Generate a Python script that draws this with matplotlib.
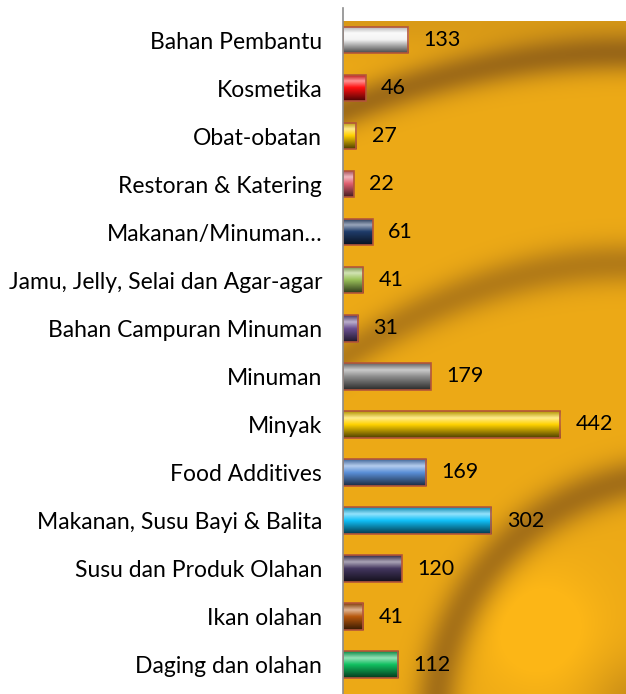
import numpy as np
import matplotlib
matplotlib.use('Agg')
import matplotlib.pyplot as plt
from matplotlib.colors import to_rgb

plt.rcParams['font.family'] = ['Lato', 'DejaVu Sans']

categories = ['Bahan Pembantu', 'Kosmetika', 'Obat-obatan', 'Restoran & Katering',
              'Makanan/Minuman\u2026', 'Jamu, Jelly, Selai dan Agar-agar',
              'Bahan Campuran Minuman', 'Minuman', 'Minyak', 'Food Additives',
              'Makanan, Susu Bayi & Balita', 'Susu dan Produk Olahan',
              'Ikan olahan', 'Daging dan olahan']
values = [133, 46, 27, 22, 61, 41, 31, 179, 442, 169, 302, 120, 41, 112]
bar_colors = ['#f4f4f4', '#ff1010', '#ffd000', '#e06070', '#1f3c6a', '#9bc25a',
              '#6a4f90', '#8c8c8c', '#ffd200', '#5a8fd8', '#10c0f8', '#43365e',
              '#b8580c', '#10c060']

W, H = 626, 694
fig = plt.figure(figsize=(W / 100, H / 100), dpi=100, facecolor='white')
ax = fig.add_axes([343 / W, 0, 1 - 343 / W, 1 - 8 / H])
ax.patch.set_alpha(0)

n = len(categories)
ypos = np.arange(n)
bar_h = 0.55
xmax = 576
ytop, ybot = -0.666, 13.61

# background: gold with soft dark arcs, placed pixel for pixel behind the axes
px = np.arange(343, 626)[None, :].astype(float)
py = np.arange(21, 694)[:, None].astype(float)
t = (px - 343) / 283
y1 = 53 + 57 * (1 - t) ** 2
band1 = np.exp(-((py - y1) / 20) ** 2)
y2 = 263 + 94 * (1 - t) ** 2
band2 = 0.75 * np.exp(-((py - y2) / 22) ** 2)
r = np.hypot(px - 680, py - 720)
band3 = 0.95 * np.exp(-((r - 245) / 22) ** 2)
corner = 0.5 * np.exp(-(np.hypot(px - 640, py - 710) / 50) ** 2)
glow = 0.25 * np.exp(-((px - 540) / 60) ** 2 - ((py - 630) / 60) ** 2)
topshade = 0.25 * np.exp(-((py - 21) / 30) ** 2)
d = np.clip(0.15 + 0.75 * (band1 + band2 + band3 + corner + topshade) - glow, 0, 1)
c_light = np.array([252, 182, 22]) / 255
c_dark = np.array([150, 100, 24]) / 255
bg = c_light[None, None, :] * (1 - d[..., None]) + c_dark[None, None, :] * d[..., None]
fig.figimage(bg, xo=343, yo=0, origin='upper', zorder=-1)

bars = ax.barh(ypos, values, height=bar_h, color='none', edgecolor='#b4563a',
               linewidth=1.2, zorder=3)

prof_t = np.linspace(0, 1, 64)
for bar, col, y, val in zip(bars, bar_colors, ypos, values):
    c = np.array(to_rgb(col))
    light = c + (1 - c) * 0.55
    dark_top = c * 0.7
    dark_bot = c * 0.3
    keys = [0.0, 0.25, 0.5, 1.0]
    cols = [dark_top, light, c, dark_bot]
    grad = np.stack([np.interp(prof_t, keys, [k[j] for k in cols]) for j in range(3)], axis=-1)
    img = grad[:, None, :]
    im = ax.imshow(img, extent=(0, val, y + bar_h / 2, y - bar_h / 2), aspect='auto',
                   zorder=2, interpolation='bilinear')
    im.set_clip_path(bar)
    ax.annotate(str(val), (val, y), xytext=(11, 0), textcoords='offset points',
                va='center', ha='left', fontsize=15.5, color='black', zorder=4)

ax.set_xlim(0, xmax)
ax.set_ylim(ybot, ytop)
ax.set_yticks(ypos)
ax.set_yticklabels(categories, fontsize=16.5)
ax.tick_params(axis='y', length=0, pad=15)
ax.set_xticks([])
for s in ['top', 'right', 'bottom']:
    ax.spines[s].set_visible(False)
ax.spines['left'].set_color('#8c8c8c')
ax.spines['left'].set_linewidth(1.2)
ax.spines['left'].set_zorder(5)

fig.savefig('out.png', dpi=100)
